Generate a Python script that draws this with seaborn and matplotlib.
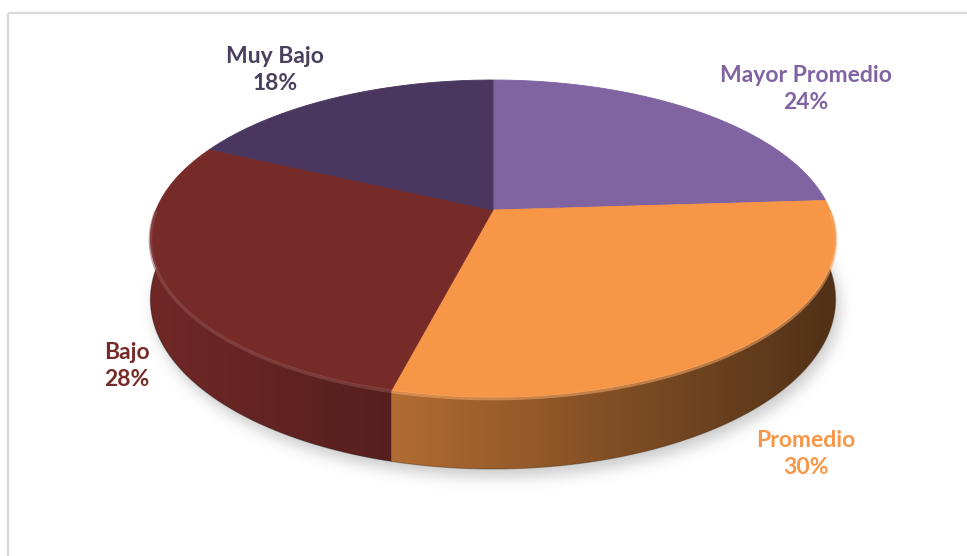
import numpy as np
import matplotlib
matplotlib.use("Agg")
import matplotlib.pyplot as plt
import seaborn as sns
from matplotlib.transforms import Transform
from matplotlib.path import Path
from matplotlib.patches import Polygon
from matplotlib.colors import to_rgb

# ---- data -------------------------------------------------------------
categories = ["Mayor Promedio", "Promedio", "Bajo", "Muy Bajo"]
shares = [24, 30, 28, 18]
top_colors = ["#8064a2", "#f79646", "#772b29", "#4a3760"]
label_colors = ["#8064a2", "#f79646", "#772b29", "#4b3f5f"]

# ---- layout -----------------------------------------------------------
W, H = 967, 556
CX, CY = 493, 210          # projected centre of the top face (pixels)
A, B, K = 337, 153.4, 0.18  # half-width, half-depth, perspective strength
DEPTH = 59                  # thickness of the disc
R = 1000.0                  # pie radius in its own units
label_pos = [(806, 89), (806, 454), (127, 366), (275, 70)]

sns.set_theme(style="white")
plt.rcParams["font.family"] = ["Lato", "DejaVu Sans"]


def project(u, v, drop=0.0):
    s = 1.0 / (1.0 + K * v)
    return CX + A * u * s, CY - B * v * s + drop * s


class TiltedDisk(Transform):
    """Maps flat pie coordinates onto a tilted disc seen in perspective."""
    input_dims = output_dims = 2
    is_separable = False
    has_inverse = False

    def transform_non_affine(self, values):
        values = np.asarray(values, dtype=float)
        x, y = project(values[:, 0] / R, values[:, 1] / R)
        return np.column_stack([x, y])

    def transform_path_non_affine(self, path):
        polys = path.to_polygons(closed_only=False)
        verts, codes = [], []
        for p in polys:
            verts.append(p)
            codes += [Path.MOVETO] + [Path.LINETO] * (len(p) - 1)
        verts = np.concatenate(verts)
        return Path(self.transform_non_affine(verts), codes)


fig = plt.figure(figsize=(W / 100, H / 100), dpi=100)
ax = fig.add_axes([0, 0, 1, 1])

# ---- soft drop shadow under the disc ------------------------------------
t_all = np.linspace(0, 2 * np.pi, 400)
sx, sy = project(np.cos(t_all), np.sin(t_all), DEPTH)
shadow_path = Path(np.column_stack([sx + 4, sy + 8]))
gx, gy = np.meshgrid(np.arange(W) + 0.5, np.arange(H) + 0.5)
mask = shadow_path.contains_points(np.column_stack([gx.ravel(), gy.ravel()]))
mask = mask.reshape(H, W).astype(float)
kx = np.arange(-20, 21)
kern = np.exp(-kx ** 2 / (2 * 7.0 ** 2))
kern /= kern.sum()
mask = np.apply_along_axis(lambda r: np.convolve(r, kern, mode="same"), 1, mask)
mask = np.apply_along_axis(lambda c: np.convolve(c, kern, mode="same"), 0, mask)
shadow = np.zeros((H, W, 4))
shadow[..., :3] = 0.55
shadow[..., 3] = mask * 0.45
ax.imshow(shadow, extent=[0, W, H, 0], zorder=0, interpolation="bilinear")

# ---- side wall of each slice (front half only) ---------------------------
frac = np.concatenate([[0], np.cumsum(shares)]) / np.sum(shares)
for i, base in enumerate(top_colors):
    hi = 90 - 360 * frac[i]
    lo = 90 - 360 * frac[i + 1]
    lo_v, hi_v = max(lo, -180), min(hi, 0)
    if lo_v >= hi_v:
        continue
    t = np.radians(np.linspace(lo_v, hi_v, 200))
    tx, ty = project(np.cos(t), np.sin(t))
    bx, by = project(np.cos(t), np.sin(t), DEPTH)
    poly = np.column_stack([np.r_[tx, bx[::-1]], np.r_[ty, by[::-1]]])
    patch = Polygon(poly, closed=True, facecolor="none", edgecolor="none", zorder=1)
    ax.add_patch(patch)
    xs = np.linspace(poly[:, 0].min(), poly[:, 0].max(), 300)
    u = np.clip((xs - CX) / A, -1, 1)
    shade = np.clip(0.63 - 0.30 * u, 0, 1)
    grad = np.array(to_rgb(base))[None, None, :] * shade[None, :, None]
    img = ax.imshow(grad, extent=[xs.min(), xs.max(), poly[:, 1].max(), poly[:, 1].min()],
                    aspect="auto", interpolation="bilinear", zorder=1)
    img.set_clip_path(patch)
    # darker lower edge
    ax.plot(bx, by, color=np.array(to_rgb(base)) * 0.3, lw=0.8, alpha=0.4, zorder=1.5)

# ---- top face of the pie --------------------------------------------------
wedges, _ = ax.pie(shares, colors=top_colors, startangle=90, counterclock=False,
                   radius=R, labeldistance=None,
                   wedgeprops=dict(transform=TiltedDisk() + ax.transData,
                                   linewidth=0.6, zorder=2))
for w in wedges:
    w.set_edgecolor(w.get_facecolor())

# bevel highlight along the front rim
for i, base in enumerate(top_colors):
    hi = 90 - 360 * frac[i]
    lo = 90 - 360 * frac[i + 1]
    lo_v, hi_v = max(lo, -180), min(hi, 0)
    if lo_v >= hi_v:
        continue
    t = np.radians(np.linspace(lo_v, hi_v, 200))
    tx, ty = project(np.cos(t), np.sin(t))
    light = np.array(to_rgb(base)) * 0.82 + 0.18
    ax.plot(tx, ty + 1.5, color=light, lw=2.5, alpha=0.55, zorder=3,
            solid_capstyle="butt")

ax.set_aspect("auto")
ax.set_xlim(0, W)
ax.set_ylim(H, 0)
ax.axis("off")

# ---- labels ---------------------------------------------------------------
for (x, y), name, val, col in zip(label_pos, categories, shares, label_colors):
    ax.text(x, y, f"{name}\n{val}%", ha="center", va="center", color=col,
            fontsize=16.5, fontweight="bold", linespacing=1.3, zorder=5)

# ---- chart area border ----------------------------------------------------
ax.plot([7.5, 7.5], [H, 12.5], color="#d9d9d9", lw=1.6, zorder=6,
        solid_capstyle="butt")
ax.plot([7.5, W], [12.5, 12.5], color="#d9d9d9", lw=1.6, zorder=6,
        solid_capstyle="butt")

fig.savefig("out.png", dpi=100)
